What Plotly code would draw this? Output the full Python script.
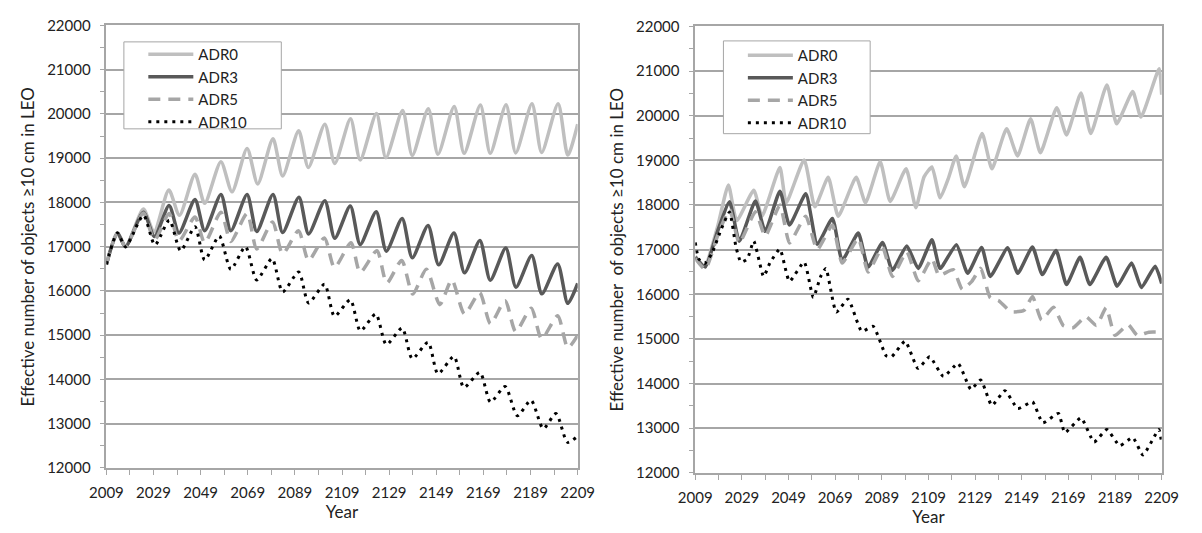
import plotly.graph_objects as go

# ---------------- Left panel data ----------------
L_adr0_x = [2009, 2013.7, 2017.1, 2024.7, 2029.2, 2035.5, 2040, 2046.6, 2050.7, 2057.6, 2062.3, 2068.7, 2073.2,
            2079.7, 2083.8, 2090.6, 2094.7, 2101.7, 2105.9, 2112.6, 2116.7, 2123.6, 2127.6, 2134.7, 2138.8,
            2145.6, 2149.7, 2156.6, 2160.8, 2167.7, 2171.9, 2178.6, 2182.7, 2189.6, 2193.7, 2200.7, 2204.8, 2209]
L_adr0_y = [16600, 17310, 17000, 17850, 17330, 18280, 17710, 18640, 17980, 18920, 18240, 19220, 18420,
            19440, 18600, 19620, 18790, 19770, 18880, 19890, 18960, 20010, 19010, 20080, 19060,
            20120, 19090, 20170, 19110, 20200, 19110, 20210, 19120, 20230, 19130, 20230, 19070, 19770]

L_adr3_x = [2009, 2013.7, 2017.1, 2024.7, 2029.4, 2035.6, 2039.8, 2046.6, 2050.7, 2057.6, 2061.8, 2068.7, 2072.8,
            2079.7, 2083.8, 2090.7, 2094.8, 2101.7, 2105.9, 2112.5, 2116.7, 2123.5, 2127.8, 2134.5, 2138.8,
            2145.5, 2150, 2156.5, 2161, 2167.5, 2171.9, 2178.5, 2182.8, 2189.5, 2193.8, 2200.5, 2204.8, 2209]
L_adr3_y = [16600, 17310, 17000, 17780, 17230, 17930, 17310, 18070, 17360, 18180, 17360, 18180, 17345,
            18180, 17320, 18120, 17290, 18040, 17190, 17920, 17050, 17790, 16900, 17640, 16750,
            17480, 16590, 17310, 16410, 17140, 16245, 16970, 16085, 16800, 15935, 16610, 15720, 16170]

L_adr5_x = [2009, 2013.7, 2017.1, 2024.7, 2029.4, 2035.6, 2039.8, 2046.6, 2050.7, 2057.6, 2061.8, 2068.7, 2072.8,
            2079.5, 2083.8, 2090.5, 2094.8, 2101.5, 2105.8, 2112.8, 2116.7, 2123.8, 2128, 2134.3, 2139,
            2144.8, 2150.5, 2155.6, 2161, 2167.4, 2172, 2178.2, 2182.7, 2189.3, 2193.7, 2200.5, 2204.8, 2209]
L_adr5_y = [16600, 17310, 17000, 17760, 17150, 17750, 17130, 17670, 17090, 17780, 17120, 17750, 16950,
            17560, 16840, 17360, 16690, 17200, 16530, 17090, 16420, 16910, 16180, 16690, 15930,
            16490, 15690, 16250, 15480, 15960, 15260, 15780, 15085, 15610, 14920, 15440, 14720, 15000]

L_adr10_x = [2009, 2013.7, 2017.1, 2024.7, 2029.6, 2035.7, 2040.5, 2046.6, 2050.7, 2056.9, 2061.8, 2068, 2072.8,
             2079.3, 2083.8, 2090.6, 2094.8, 2101.6, 2105.8, 2112.5, 2116.8, 2123.3, 2127.8, 2134.5, 2138.8,
             2145.5, 2149.7, 2156.5, 2160.7, 2167.5, 2172, 2178.2, 2183.4, 2189.2, 2194.4, 2199.8, 2204.7, 2209]
L_adr10_y = [16600, 17310, 17000, 17710, 17040, 17600, 16910, 17450, 16700, 17240, 16490, 17000, 16250,
             16730, 15980, 16430, 15730, 16150, 15430, 15800, 15100, 15480, 14790, 15160, 14470,
             14840, 14130, 14520, 13820, 14160, 13490, 13840, 13180, 13530, 12890, 13230, 12580, 12720]

# ---------------- Right panel data ----------------
R_adr0_x = [2009, 2013, 2018.5, 2023.2, 2026.8, 2034.1, 2037.6, 2045.3, 2048, 2055.7, 2060.3, 2066, 2070.3,
            2078, 2082, 2088.3, 2092.6, 2099.4, 2103.6, 2107.1, 2110.5, 2114, 2117.5, 2120.9, 2124.4,
            2132, 2136.2, 2142.5, 2147.2, 2152.8, 2157, 2164, 2168.2, 2174.4, 2178.6, 2185.5, 2189.7,
            2196.6, 2200.1, 2207.9, 2209]
R_adr0_y = [16850, 16620, 17500, 18450, 17650, 18330, 17750, 18840, 18050, 19010, 17960, 18620, 17750,
            18620, 18050, 18970, 18080, 18810, 17940, 18630, 18850, 18160, 18590, 19100, 18410,
            19600, 18810, 19710, 19100, 19930, 19170, 20180, 19570, 20510, 19600, 20690, 19820,
            20540, 19970, 21050, 20470]

R_adr3_x = [2009, 2013.3, 2018.5, 2023.7, 2027.9, 2034.8, 2039, 2045.3, 2049.4, 2056.4, 2061.3, 2067.8, 2072,
            2078.9, 2083.1, 2089.3, 2093.5, 2099.7, 2104.6, 2110.5, 2114, 2121, 2125.8, 2131.8, 2135.5,
            2143, 2147.3, 2153.6, 2157.8, 2163.7, 2168.2, 2174, 2178.2, 2185.2, 2189.9, 2196.1, 2200.3,
            2206.2, 2209]
R_adr3_y = [16830, 16610, 17400, 18070, 17190, 18090, 17410, 18310, 17550, 18250, 17120, 17700, 16760,
            17370, 16610, 17160, 16540, 17080, 16580, 17220, 16580, 17110, 16470, 17050, 16400,
            17040, 16470, 17060, 16440, 16980, 16220, 16830, 16220, 16830, 16180, 16700, 16150,
            16630, 16240]

R_adr5_x = [2009, 2013.3, 2018.5, 2023.7, 2027.9, 2034.8, 2039, 2045.3, 2049.4, 2056.4, 2061.3, 2067.8, 2072,
            2078.9, 2083.1, 2089.3, 2093.5, 2099.7, 2104.6, 2110.5, 2113.5, 2119.6, 2123.5, 2127.6, 2131.4,
            2135.5, 2139, 2144.4, 2150, 2153.6, 2157.5, 2162.6, 2166.8, 2171, 2176.5, 2181, 2185.2,
            2189, 2194.6, 2198.5, 2203.5, 2209]
R_adr5_y = [16800, 16560, 17300, 17900, 17150, 17850, 17300, 18000, 17150, 17750, 17000, 17550, 16700,
            17250, 16500, 17050, 16400, 16950, 16300, 16800, 16420, 16550, 16110, 16290, 16580,
            15920, 15860, 15610, 15640, 15950, 15420, 15710, 15300, 15250, 15500, 15300, 15700,
            15080, 15320, 15080, 15150, 15150]

R_adr10_x = [2009, 2010.5, 2013, 2016, 2020.3, 2023.7, 2026.5, 2028.6, 2031.3, 2034.1, 2038.3, 2041, 2045.3,
             2049.4, 2055.7, 2059.6, 2062.8, 2065, 2069.5, 2074.5, 2080.4, 2085.3, 2090.9, 2093.2, 2099,
             2104.5, 2109.5, 2115.4, 2121.7, 2127.2, 2131.4, 2136.2, 2141.8, 2147.3, 2153.6, 2158,
             2164.7, 2167.5, 2174.4, 2180, 2185.5, 2191, 2196.6, 2201, 2207.8, 2209]
R_adr10_y = [17160, 16790, 16690, 16900, 17480, 17840, 17050, 16720, 16790, 17190, 16400, 16700, 17010,
             16290, 16720, 15930, 16400, 16580, 15600, 15890, 15170, 15280, 14620, 14600, 14950,
             14340, 14600, 14160, 14450, 13870, 14080, 13510, 13840, 13440, 13590, 13120,
             13330, 12900, 13230, 12690, 12970, 12610, 12790, 12400, 12970, 12650]

names = ["ADR0", "ADR3", "ADR5", "ADR10"]
styles = [
    dict(color="#BFBFBF", width=3.5, dash="solid"),
    dict(color="#595959", width=3.5, dash="solid"),
    dict(color="#A6A6A6", width=3.5, dash="12px,8px"),
    dict(color="#000000", width=3, dash="3px,5px"),
]

FONT = "Lato, 'Open Sans', sans-serif"
fig = go.Figure()

left = [(L_adr0_x, L_adr0_y), (L_adr3_x, L_adr3_y), (L_adr5_x, L_adr5_y), (L_adr10_x, L_adr10_y)]
right = [(R_adr0_x, R_adr0_y), (R_adr3_x, R_adr3_y), (R_adr5_x, R_adr5_y), (R_adr10_x, R_adr10_y)]

for (xs, ys), nm, st in zip(left, names, styles):
    fig.add_trace(go.Scatter(x=xs, y=ys, name=nm, mode="lines", xaxis="x", yaxis="y", legend="legend",
                             line=dict(shape="spline", smoothing=0.7, **st)))
for (xs, ys), nm, st in zip(right, names, styles):
    fig.add_trace(go.Scatter(x=xs, y=ys, name=nm, mode="lines", xaxis="x2", yaxis="y2", legend="legend2",
                             line=dict(shape="spline", smoothing=0.5, **st)))

W, H = 1202, 533
axis_col = "#A6A6A6"
tickfont = dict(family=FONT, size=15, color="#222222")
titlefont = dict(family=FONT, size=17, color="#222222")

def xax(domain, anchor):
    return dict(domain=domain, anchor=anchor, range=[2009, 2209], tick0=2009, dtick=20, tickformat="d",
                showgrid=False, zeroline=False, showline=True, linecolor=axis_col, linewidth=1.5, mirror=True,
                ticks="outside", ticklen=5, tickcolor=axis_col, tickwidth=1.2, ticklabelstandoff=5,
                minor=dict(tick0=2009, dtick=10, ticks="outside", ticklen=5, tickcolor=axis_col, showgrid=False),
                tickfont=tickfont, title=dict(text="Year", font=titlefont, standoff=6))

def yax(domain, anchor, title):
    return dict(domain=domain, anchor=anchor, range=[12000, 22000], dtick=1000, tick0=12000, tickformat="d",
                showgrid=True, gridcolor=axis_col, gridwidth=1.5, zeroline=False,
                showline=True, linecolor=axis_col, linewidth=1.5, mirror=True,
                ticks="outside", ticklen=5, tickcolor=axis_col, tickwidth=1.2, ticklabelstandoff=6,
                minor=dict(dtick=500, ticks="outside", ticklen=5, tickcolor=axis_col, showgrid=False),
                tickfont=tickfont, title=dict(text=title, font=titlefont, standoff=8))

legfont = dict(family=FONT, size=15, color="#222222")
fig.update_layout(
    width=W, height=H, margin=dict(l=0, r=0, t=0, b=0),
    paper_bgcolor="white", plot_bgcolor="white",
    xaxis=xax([92 / W, 577 / W], "y"),
    yaxis=yax([1 - 474 / H, 1 - 16 / H], "x", "Effective number of objects ≥10 cm in LEO"),
    xaxis2=xax([698 / W, 1178 / W], "y2"),
    yaxis2=yax([1 - 479 / H, 1 - 17 / H], "x2", "Effective number\u00a0 of objects ≥10 cm in LEO"),
    legend=dict(x=130 / W, y=1 - 29 / H, xanchor="left", yanchor="top", bgcolor="rgba(0,0,0,0)",
                borderwidth=0, font=legfont, itemwidth=45, tracegroupgap=0),
    legend2=dict(x=747 / W, y=1 - 30 / H, xanchor="left", yanchor="top", bgcolor="rgba(0,0,0,0)",
                 borderwidth=0, font=legfont, itemwidth=45, tracegroupgap=0),
    shapes=[
        dict(type="rect", xref="paper", yref="paper", x0=110 / W, x1=272 / W, y0=1 - 123 / H, y1=1 - 33 / H,
             line=dict(color=axis_col, width=1), fillcolor="white", layer="above"),
        dict(type="rect", xref="paper", yref="paper", x0=727 / W, x1=878 / W, y0=1 - 128 / H, y1=1 - 32 / H,
             line=dict(color=axis_col, width=1), fillcolor="white", layer="above"),
    ],
    showlegend=True,
)

fig.write_html("out.html")
